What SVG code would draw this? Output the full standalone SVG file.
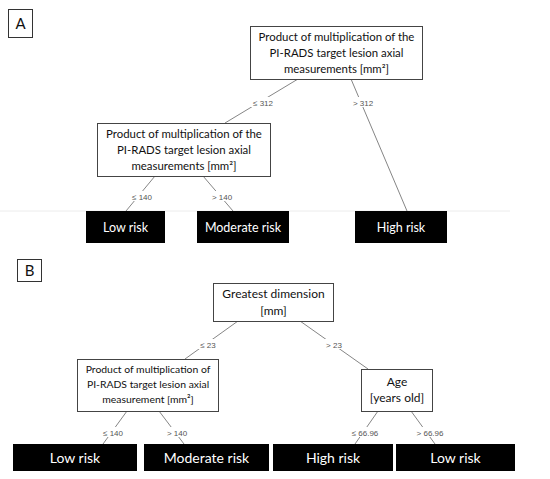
<svg xmlns="http://www.w3.org/2000/svg" width="550" height="479" viewBox="0 0 550 479">
<style>
.bg{fill:#fff}
.panel{fill:#fff;stroke:#333;stroke-width:1}
.plbl{font-family:Lato,"Liberation Sans",sans-serif;font-size:15px;fill:#111}
.node{fill:#fff;stroke:#444;stroke-width:1}
.nt{font-family:Lato,"Liberation Sans",sans-serif;font-size:11.4px;fill:#111;text-anchor:middle}
.nts{font-family:Lato,"Liberation Sans",sans-serif;font-size:10.4px;fill:#111;text-anchor:middle}
.ntb{font-family:Lato,"Liberation Sans",sans-serif;font-size:12px;fill:#111;text-anchor:middle}
.leaf{fill:#000}
.lt{font-family:Lato,"Liberation Sans",sans-serif;font-size:12.5px;fill:#fff;text-anchor:middle}
.ltb{font-family:Lato,"Liberation Sans",sans-serif;font-size:14px;fill:#fff;text-anchor:middle}
.edge{stroke:#777;stroke-width:0.9;fill:none}
.el{font-family:"Liberation Sans",Arial,sans-serif;font-size:8px;fill:#555;text-anchor:middle}
</style>
<rect class="bg" width="550" height="479"/>
<line x1="0" y1="211" x2="510" y2="211" stroke="#ececec" stroke-width="1"/>

<g id="panel-A-label"><rect class="panel" x="8.5" y="9.5" width="24" height="28"/><text class="plbl" x="20.5" y="29" text-anchor="middle">A</text></g>
<g id="panel-B-label"><rect class="panel" x="17.5" y="259.5" width="24" height="22"/><text class="plbl" x="29.5" y="276" text-anchor="middle">B</text></g>

<g id="connectors">
<line class="edge" x1="298" y1="79" x2="225" y2="123"/>
<line class="edge" x1="351" y1="79" x2="407" y2="211"/>
<line class="edge" x1="155" y1="176" x2="126" y2="211"/>
<line class="edge" x1="203" y1="176" x2="233" y2="211"/>
<line class="edge" x1="238" y1="321" x2="185" y2="359"/>
<line class="edge" x1="300" y1="321" x2="368" y2="369"/>
<line class="edge" x1="127" y1="411" x2="103" y2="444"/>
<line class="edge" x1="159" y1="411" x2="184" y2="444"/>
<line class="edge" x1="378" y1="411" x2="355" y2="444"/>
<line class="edge" x1="411" y1="411" x2="435" y2="444"/>
<g id="edge-labels">
<rect x="251" y="97" width="24" height="10" fill="#fff"/><text class="el" x="263" y="106">≤ 312</text>
<rect x="351" y="97" width="24" height="10" fill="#fff"/><text class="el" x="363" y="106">&gt; 312</text>
<rect x="130" y="191" width="24" height="10" fill="#fff"/><text class="el" x="142" y="200">≤ 140</text>
<rect x="210" y="191" width="24" height="10" fill="#fff"/><text class="el" x="222" y="200">&gt; 140</text>
<rect x="198" y="339" width="20" height="10" fill="#fff"/><text class="el" x="208" y="347.5">≤ 23</text>
<rect x="324" y="339" width="20" height="10" fill="#fff"/><text class="el" x="334" y="347.5">&gt; 23</text>
<rect x="101" y="427" width="24" height="10" fill="#fff"/><text class="el" x="113" y="435.5">≤ 140</text>
<rect x="165" y="427" width="24" height="10" fill="#fff"/><text class="el" x="177" y="435.5">&gt; 140</text>
<rect x="350" y="427" width="30" height="10" fill="#fff"/><text class="el" x="365" y="435.5">≤ 66.96</text>
<rect x="415" y="427" width="30" height="10" fill="#fff"/><text class="el" x="430" y="435.5">&gt; 66.96</text>
</g>
</g>

<g id="A-root"><rect class="node" x="250.5" y="26.5" width="172" height="53"/>
<text class="nt" x="336.5" y="41">Product of multiplication of the</text>
<text class="nt" x="336.5" y="57">PI-RADS target lesion axial</text>
<text class="nt" x="336.5" y="73">measurements [mm²]</text></g>
<g id="A-inner"><rect class="node" x="97.5" y="123.5" width="173" height="53"/>
<text class="nt" x="184" y="138">Product of multiplication of the</text>
<text class="nt" x="184" y="154">PI-RADS target lesion axial</text>
<text class="nt" x="184" y="170">measurements [mm²]</text></g>
<g id="A-low"><rect class="leaf" x="86" y="211" width="79" height="32"/><text class="lt" x="125.5" y="231.5">Low risk</text></g>
<g id="A-moderate"><rect class="leaf" x="197" y="211" width="92" height="32"/><text class="lt" x="243" y="231.5">Moderate risk</text></g>
<g id="A-high"><rect class="leaf" x="355" y="211" width="92" height="32"/><text class="lt" x="401" y="231.5">High risk</text></g>

<g id="B-root"><rect class="node" x="213.5" y="283.5" width="120" height="38"/>
<text class="ntb" x="273.5" y="298">Greatest dimension</text>
<text class="ntb" x="273.5" y="315">[mm]</text></g>
<g id="B-inner"><rect class="node" x="77.5" y="359.5" width="141" height="52"/>
<text class="nts" x="148" y="372.5">Product of multiplication of</text>
<text class="nts" x="148" y="388">PI-RADS target lesion axial</text>
<text class="nts" x="148" y="403">measurement [mm²]</text></g>
<g id="B-age"><rect class="node" x="361.5" y="369.5" width="71" height="42"/>
<text class="ntb" x="397" y="386">Age</text>
<text class="ntb" x="397" y="402">[years old]</text></g>
<g id="B-low1"><rect class="leaf" x="13" y="444" width="124" height="27"/><text class="ltb" x="75" y="462.5">Low risk</text></g>
<g id="B-moderate"><rect class="leaf" x="144" y="444" width="125" height="27"/><text class="ltb" x="206.5" y="462.5">Moderate risk</text></g>
<g id="B-high"><rect class="leaf" x="273" y="444" width="120" height="27"/><text class="ltb" x="333" y="462.5">High risk</text></g>
<g id="B-low2"><rect class="leaf" x="396" y="444" width="119" height="27"/><text class="ltb" x="455.5" y="462.5">Low risk</text></g>
</svg>
